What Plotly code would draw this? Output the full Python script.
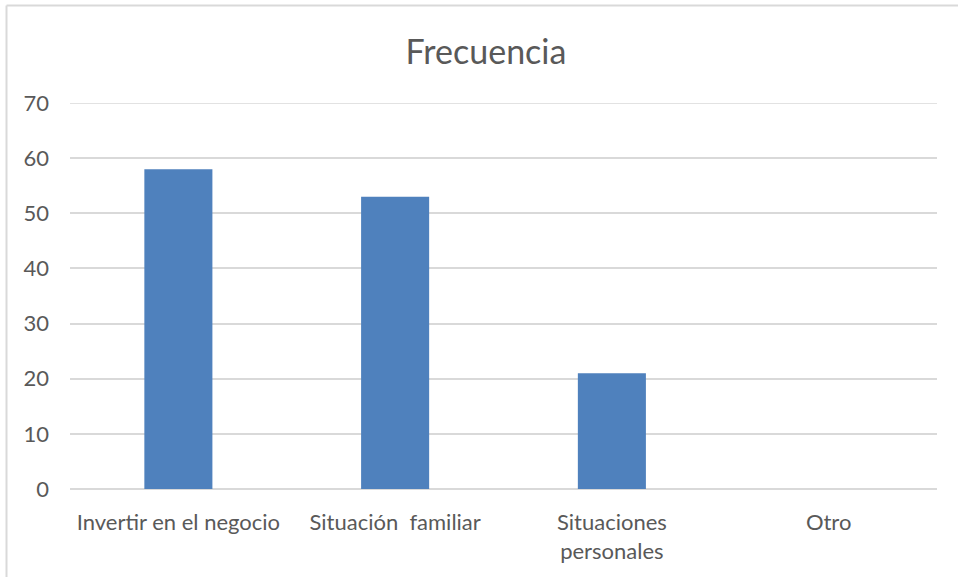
import plotly.graph_objects as go

categories = ["Invertir en el negocio", "Situación\u00a0 familiar", "Situaciones<br>personales", "Otro"]
values = [58, 53, 21, 0]
y_ticks = [0, 10, 20, 30, 40, 50, 60, 70]

W, H = 958, 577
L, R, T, B = 70, 21, 103, 88
plot_w = W - L - R
plot_h = H - T - B


def px_x(px):
    # pixel -> paper x
    return (px - L) / plot_w


def px_y(py):
    # pixel -> paper y
    return (H - B - py) / plot_h


grid = "#d9d9d9"
text_col = "#595959"
font = "Lato, 'Open Sans', sans-serif"

fig = go.Figure(
    go.Bar(
        x=categories,
        y=values,
        marker=dict(color="#4f81bd", line=dict(width=0)),
        hoverinfo="skip",
    )
)

fig.update_layout(
    width=W,
    height=H,
    margin=dict(l=L, r=R, t=T, b=B),
    paper_bgcolor="white",
    plot_bgcolor="white",
    bargap=0.686,
    showlegend=False,
    font=dict(family=font, color=text_col, size=22),
    title=dict(
        text="Frecuencia",
        x=px_x(486),
        xref="paper",
        xanchor="center",
        y=1 - 52 / H,
        yanchor="middle",
        font=dict(size=34, color=text_col, family=font),
    ),
    xaxis=dict(
        showgrid=False,
        showline=False,
        zeroline=False,
        ticks="",
        ticklabelstandoff=18,
        tickfont=dict(size=22, color=text_col),
    ),
    yaxis=dict(
        range=[0, 70],
        tickvals=y_ticks,
        showgrid=True,
        gridcolor=grid,
        gridwidth=1.5,
        zeroline=True,
        zerolinecolor=grid,
        zerolinewidth=1.5,
        showline=False,
        ticks="",
        ticklabelstandoff=20,
        tickfont=dict(size=22, color=text_col),
    ),
)

# top gridline sits on the range edge, plotly skips it
fig.add_shape(type="line", xref="paper", yref="y", x0=0, x1=1, y0=y_ticks[-1], y1=y_ticks[-1],
              line=dict(color=grid, width=1.5), layer="below")

# chart-area border (only top and left edges are inside the picture)
fig.add_shape(type="line", xref="paper", yref="paper",
              x0=px_x(6.5), x1=px_x(W + 5), y0=px_y(5.5), y1=px_y(5.5),
              line=dict(color=grid, width=2))
fig.add_shape(type="line", xref="paper", yref="paper",
              x0=px_x(6.5), x1=px_x(6.5), y0=px_y(5.5), y1=px_y(H + 5),
              line=dict(color=grid, width=2))

# drop the default 8px body margin so the figure lines up with the window
fig.write_html(
    "out.html",
    config={"displayModeBar": False},
    post_script="document.body.style.margin='0';",
)
